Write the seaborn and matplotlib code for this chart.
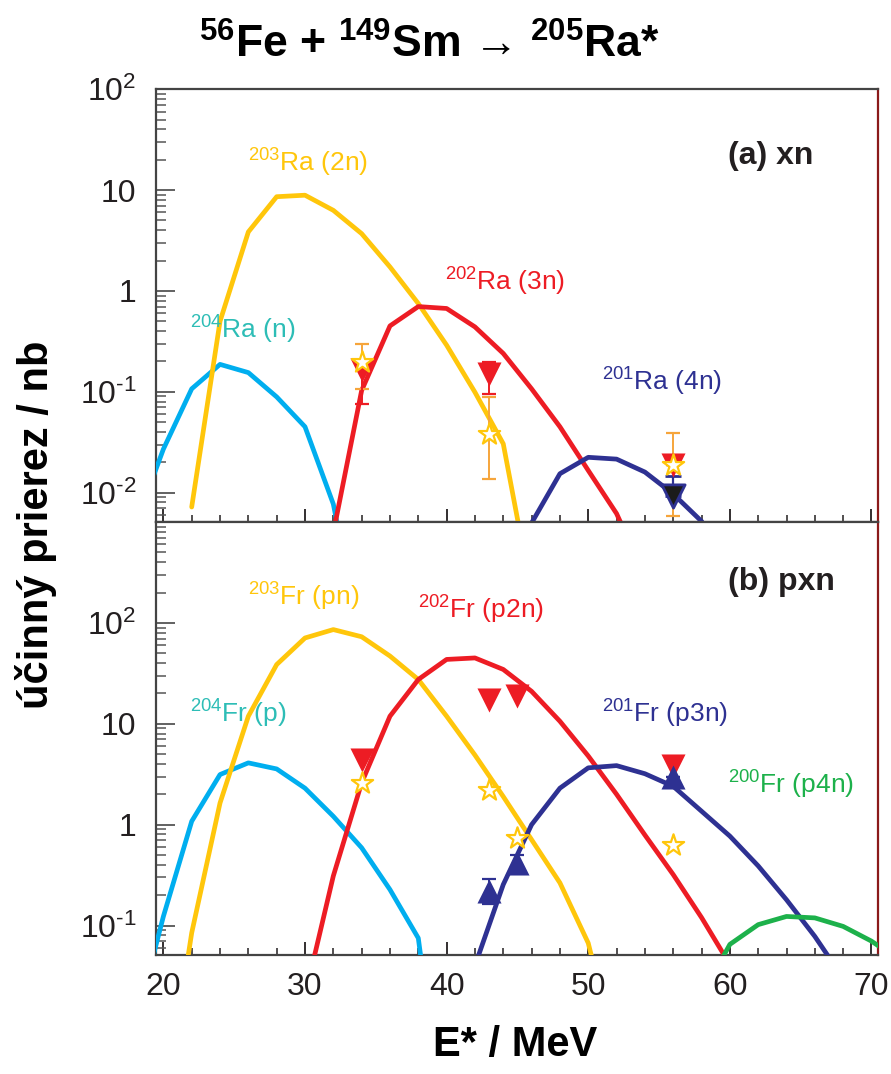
import numpy as np
import pandas as pd
import matplotlib
matplotlib.use("Agg")
import matplotlib.pyplot as plt
import seaborn as sns
from matplotlib.ticker import LogLocator, NullFormatter, MultipleLocator

# ---------------- data ----------------
# panel (a) xn  -- model curves
E_ra_n = [18, 20, 22, 24, 26, 28, 30, 32, 34]
S_ra_n = [0.0047, 0.027, 0.107, 0.187, 0.155, 0.089, 0.045, 0.0077, 0.0003]
E_ra_2n = [22, 24, 26, 28, 30, 32, 34, 36, 38, 40, 42, 44, 46]
S_ra_2n = [0.0072, 0.5, 3.85, 8.6, 8.9, 6.3, 3.7, 1.73, 0.75, 0.29, 0.099, 0.0305, 0.001]
E_ra_3n = [32, 34, 36, 38, 40, 42, 44, 46, 48, 50, 52, 54]
S_ra_3n = [0.004, 0.103, 0.45, 0.70, 0.67, 0.44, 0.24, 0.107, 0.045, 0.0166, 0.0062, 0.0015]
E_ra_4n = [44, 46, 48, 50, 52, 54, 56, 58, 60]
S_ra_4n = [0.0003, 0.005, 0.0154, 0.0224, 0.0215, 0.016, 0.0097, 0.0052, 0.002]

# panel (b) pxn  -- model curves
E_fr_p = [18, 20, 22, 24, 26, 28, 30, 32, 34, 36, 38, 40]
S_fr_p = [0.01, 0.123, 1.08, 3.14, 4.1, 3.57, 2.3, 1.21, 0.59, 0.227, 0.075, 0.0006]
E_fr_pn = [20, 22, 24, 26, 28, 30, 32, 34, 36, 38, 40, 42, 44, 46, 48, 50, 52]
S_fr_pn = [0.0013, 0.0845, 1.64, 11.9, 38.7, 71, 86, 73, 47, 27.5, 11.9, 4.9, 1.9, 0.71, 0.265, 0.067, 0.005]
E_fr_p2n = [30, 32, 34, 36, 38, 40, 42, 44, 46, 48, 50, 52, 54, 56, 58, 60]
S_fr_p2n = [0.02, 0.31, 2.6, 11.9, 27.5, 43.5, 45, 34.6, 21, 10.6, 4.8, 2.0, 0.79, 0.32, 0.12, 0.041]
E_fr_p3n = [42, 44, 46, 48, 50, 52, 54, 56, 58, 60, 62, 64, 66, 68, 70]
S_fr_p3n = [0.04, 0.255, 1.0, 2.3, 3.66, 3.85, 3.2, 2.4, 1.36, 0.77, 0.39, 0.18, 0.078, 0.03, 0.01]
E_fr_p4n = [58, 60, 62, 64, 66, 68, 70, 72]
S_fr_p4n = [0.02, 0.065, 0.102, 0.123, 0.119, 0.098, 0.07, 0.045]

# panel (a) measured points
E_a_2n = [34, 43, 56]
S_a_2n = [0.197, 0.038, 0.0186]
LO_a_2n = [0.107, 0.0135, 0.0059]
HI_a_2n = [0.296, 0.0885, 0.039]
E_a_3n = [34, 43, 56]
S_a_3n = [0.163, 0.151, 0.0186]
LO_a_3n = [0.076, 0.096, 0.0186]
HI_a_3n = [0.197, 0.197, 0.0186]
E_a_4n = [56]
S_a_4n = [0.0092]
LO_a_4n = [0.0092]
HI_a_4n = [0.0147]

# panel (b) measured points
E_b_pn = [34, 43, 45, 56]
S_b_pn = [2.6, 2.2, 0.74, 0.63]
E_b_p2n = [34, 43, 45, 56]
S_b_p2n = [4.4, 17.4, 18.8, 3.8]
E_b_p3n = [43, 45, 56]
S_b_p3n = [0.22, 0.42, 3.0]
LO_b_p3n = [0.165, 0.33, 3.0]
HI_b_p3n = [0.29, 0.50, 3.0]

# tick labels
YT_a = [0.01, 0.1, 1, 10, 100]
YL_a = [r"$10^{\text{-2}}$", r"$10^{\text{-1}}$", "1", "10", r"$10^{2}$"]
YT_b = [0.1, 1, 10, 100]
YL_b = [r"$10^{\text{-1}}$", "1", "10", r"$10^{2}$"]

# colours
YEL = "#FFC60B"
CYA = "#00AEEF"
RED = "#ED1C24"
NAV = "#2E3192"
GRN = "#1DB14B"
TEAL = "#2DBDB6"
ORA = "#F6A53B"
INK = "#231F20"

# ---------------- style ----------------
sns.set_theme(style="ticks")
plt.rcParams["font.family"] = ["Liberation Sans", "DejaVu Sans"]
plt.rcParams["mathtext.fontset"] = "custom"
plt.rcParams["mathtext.rm"] = "Liberation Sans"
plt.rcParams["mathtext.bf"] = "Liberation Sans:bold"
plt.rcParams["mathtext.default"] = "regular"

fig, (axa, axb) = plt.subplots(2, 1, figsize=(8.91, 10.74), dpi=100, sharex=True)
fig.subplots_adjust(left=0.1751, right=0.9854, top=0.9169, bottom=0.1108, hspace=0)

def curves(pairs):
    frames = []
    for name, e, s in pairs:
        frames.append(pd.DataFrame({"E": e, "sigma": s, "ch": name}))
    return pd.concat(frames, ignore_index=True)

df_a = curves([("n", E_ra_n, S_ra_n), ("2n", E_ra_2n, S_ra_2n),
               ("3n", E_ra_3n, S_ra_3n), ("4n", E_ra_4n, S_ra_4n)])
df_b = curves([("p", E_fr_p, S_fr_p), ("pn", E_fr_pn, S_fr_pn),
               ("p2n", E_fr_p2n, S_fr_p2n), ("p3n", E_fr_p3n, S_fr_p3n),
               ("p4n", E_fr_p4n, S_fr_p4n)])

pal_a = {"n": CYA, "2n": YEL, "3n": RED, "4n": NAV}
pal_b = {"p": CYA, "pn": YEL, "p2n": RED, "p3n": NAV, "p4n": GRN}

for ax, df, pal in [(axa, df_a, pal_a), (axb, df_b, pal_b)]:
    ax.set_yscale("log")
    sns.lineplot(data=df, x="E", y="sigma", hue="ch", palette=pal, hue_order=list(pal.keys()),
                 estimator=None, sort=False, lw=3.4, legend=False, ax=ax, zorder=3)

# --- measured points, panel (a)
axa.errorbar(E_a_2n, S_a_2n,
             yerr=[np.array(S_a_2n) - np.array(LO_a_2n), np.array(HI_a_2n) - np.array(S_a_2n)],
             fmt="none", ecolor=ORA, elinewidth=1.4, capsize=5, capthick=1.6, zorder=4)
axa.errorbar(E_a_3n, S_a_3n,
             yerr=[np.array(S_a_3n) - np.array(LO_a_3n), np.array(HI_a_3n) - np.array(S_a_3n)],
             fmt="none", ecolor=RED, elinewidth=1.4, capsize=5, capthick=1.6, zorder=4)
axa.errorbar(E_a_4n, S_a_4n,
             yerr=[np.array(S_a_4n) - np.array(LO_a_4n), np.array(HI_a_4n) - np.array(S_a_4n)],
             fmt="none", ecolor=NAV, elinewidth=1.6, capsize=6, capthick=2, zorder=4)
sns.scatterplot(x=E_a_3n, y=S_a_3n, marker="v", s=300, color=RED, edgecolor=RED, linewidth=0, ax=axa, zorder=5)
sns.scatterplot(x=E_a_2n, y=S_a_2n, marker="*", s=260, color="white", edgecolor=YEL, linewidth=1.6, ax=axa, zorder=6)
sns.scatterplot(x=E_a_4n, y=S_a_4n, marker="v", s=280, color="#1b1b1b", edgecolor=NAV, linewidth=2, ax=axa, zorder=5)

# --- measured points, panel (b)
axb.errorbar(E_b_p3n, S_b_p3n,
             yerr=[np.array(S_b_p3n) - np.array(LO_b_p3n), np.array(HI_b_p3n) - np.array(S_b_p3n)],
             fmt="none", ecolor=NAV, elinewidth=1.4, capsize=5, capthick=1.6, zorder=4)
sns.scatterplot(x=E_b_p2n, y=S_b_p2n, marker="v", s=300, color=RED, edgecolor=RED, linewidth=0, ax=axb, zorder=5)
sns.scatterplot(x=E_b_p3n, y=S_b_p3n, marker="^", s=300, color=NAV, edgecolor=NAV, linewidth=0, ax=axb, zorder=5)
sns.scatterplot(x=E_b_pn, y=S_b_pn, marker="*", s=260, color="white", edgecolor=YEL, linewidth=1.6, ax=axb, zorder=6)

# ---------------- axes formatting ----------------
axa.set_ylim(0.0051, 100)
axb.set_ylim(0.051, 1000)
axb.set_xlim(19.48, 70.46)

axa.set_yticks(YT_a)
axa.set_yticklabels(YL_a)
axb.set_yticks(YT_b)
axb.set_yticklabels(YL_b)
axb.xaxis.set_major_locator(MultipleLocator(10))
axb.xaxis.set_minor_locator(MultipleLocator(2))

for ax in (axa, axb):
    ax.yaxis.set_minor_locator(LogLocator(base=10, subs=np.arange(2, 10), numticks=30))
    ax.yaxis.set_minor_formatter(NullFormatter())
    ax.tick_params(axis="y", which="major", direction="in", length=14, width=1.3,
                   labelsize=23, pad=14, colors="#555555", labelcolor=INK, left=True, right=False)
    ax.tick_params(axis="y", which="minor", direction="in", length=7.5, width=1.1,
                   colors="#555555", left=True, right=False)
    ax.tick_params(axis="x", which="major", direction="in", length=9.5, width=1.3,
                   labelsize=23, pad=12, colors=INK, labelcolor=INK, top=False)
    ax.tick_params(axis="x", which="minor", direction="in", length=5, width=1.1,
                   colors=INK, top=False)
    for side in ("left", "top", "bottom"):
        ax.spines[side].set_color("#444444")
        ax.spines[side].set_linewidth(1.6)
    ax.spines["right"].set_color("#8B1A1A")
    ax.spines["right"].set_linewidth(1.6)
    ax.set_xlabel("")
    ax.set_ylabel("")

# ---------------- text ----------------
lab = dict(fontsize=19, ha="left", va="center", zorder=7)
axa.text(25.98, 18.5, r"$^{203}$Ra (2n)", color=YEL, **lab)
axa.text(21.9, 0.41, r"$^{204}$Ra (n)", color=TEAL, **lab)
axa.text(39.9, 1.22, r"$^{202}$Ra (3n)", color=RED, **lab)
axa.text(50.97, 0.124, r"$^{201}$Ra (4n)", color=NAV, **lab)
axa.text(59.85, 22, "(a) xn", fontsize=23, fontweight="bold", color=INK, ha="left", va="center")

axb.text(26.0, 183, r"$^{203}$Fr (pn)", color=YEL, **lab)
axb.text(38.0, 136, r"$^{202}$Fr (p2n)", color=RED, **lab)
axb.text(21.9, 12.4, r"$^{204}$Fr (p)", color=TEAL, **lab)
axb.text(51.0, 12.4, r"$^{201}$Fr (p3n)", color=NAV, **lab)
axb.text(59.85, 2.5, r"$^{200}$Fr (p4n)", color=GRN, **lab)
axb.text(59.85, 257, "(b) pxn", fontsize=23, fontweight="bold", color=INK, ha="left", va="center")

fig.text(36 / 891, 1 - 525 / 1074, "účinný prierez / nb", rotation=90, fontsize=30,
         fontweight="bold", ha="center", va="center", color="black")
fig.text(515 / 891, 1 - 1045 / 1074, "E* / MeV", fontsize=30, fontweight="bold",
         ha="center", va="center", color="black")
fig.text(429 / 891, 1 - 45 / 1074, r"$^{56}$Fe + $^{149}$Sm → $^{205}$Ra*", fontsize=32,
         fontweight="bold", ha="center", va="center", color="black")

fig.savefig("out.png", dpi=100)
